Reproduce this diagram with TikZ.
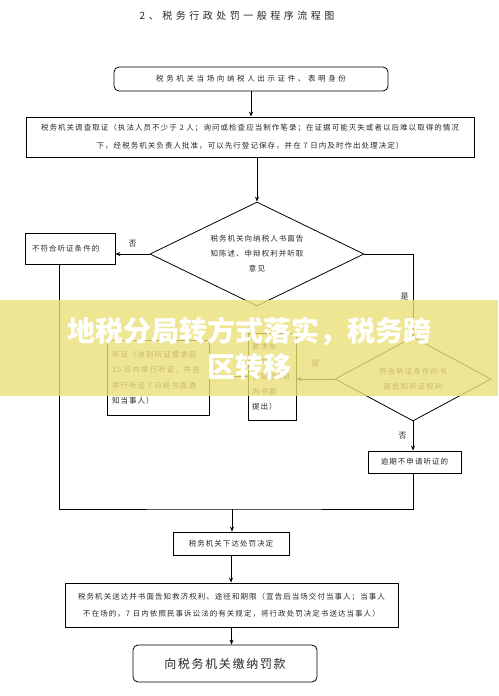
\documentclass[tikz,border=0pt]{standalone}
\usepackage{fontspec}
\usepackage{xcolor}
\newfontfamily\cjk[LetterSpace=14]{Noto Sans CJK SC}
\newfontfamily\cjkwide[LetterSpace=35]{Noto Sans CJK SC}
\newfontfamily\cjkplain{Noto Sans CJK SC}
\usetikzlibrary{shapes.geometric, arrows.meta, calc}
\definecolor{bannerfill}{RGB}{236,224,122}
\definecolor{inkgray}{RGB}{40,40,40}
\tikzset{
    box/.style={rectangle, draw, line width=0.8pt, inner sep=2pt, text=inkgray, font=\cjk\fontsize{7.5}{14}\selectfont},
    rbox/.style={box, rounded corners=5pt},
    choice/.style={diamond, draw, line width=0.8pt, inner sep=0pt, aspect=2, align=center, text=inkgray, font=\cjk\fontsize{7.5}{15}\selectfont},
    arrow/.style={line width=0.8pt, -{Stealth[length=5pt,width=4pt]}},
    link/.style={line width=0.8pt},
    tag/.style={text=inkgray, inner sep=1pt, font=\cjk\fontsize{8}{8}\selectfont}
}

\begin{document}
\begin{tikzpicture}[x=1pt, y=-1pt]
    \useasboundingbox (0,0) rectangle (498,696);
    \fill[white] (0,0) rectangle (498,696);

    \node (title) at (237,16) [text=inkgray, font=\cjkwide\fontsize{10}{10}\selectfont] {2、税务行政处罚一般程序流程图};

    % steps
    \node (show) at (251,79) [rbox, minimum width=274, minimum height=24, font=\cjkwide\fontsize{7.5}{10}\selectfont] {税务机关当场向纳税人出示证件、表明身份};
    \node (invest) at (250,137) [box, minimum width=448, minimum height=40, align=center, font=\cjk\fontsize{7.5}{18}\selectfont] {税务机关调查取证（执法人员不少于 2 人；询问或检查应当制作笔录；在证据可能灭失或者以后难以取得的情况\\下，经税务机关负责人批准，可以先行登记保存，并在 7 日内及时作出处理决定）};
    \node (notify) at (257,254) [choice, minimum width=214, minimum height=104] {税务机关向纳税人书面告\\知陈述、申辩权利并听取\\意见};
    \node (nohear) at (70,248.5) [box, minimum width=90, minimum height=31, text width=76, inner xsep=7, align=left] {不符合听证条件的};
    \node (hearcond) at (413,379) [choice, minimum width=156, minimum height=84] {符合听证条件的书\\面告知听证权利};
    \node (request) at (272,376.5) [box, minimum width=48, minimum height=87, text width=40, inner xsep=4, align=left, font=\cjk\fontsize{7.5}{15}\selectfont] {要求听\\证的（\\告知后3日\\内书面\\提出）};
    \node (hearing) at (158,377.5) [box, minimum width=102, minimum height=75, text width=92, inner xsep=5, align=left, font=\cjk\fontsize{7.5}{15.5}\selectfont] {听证（收到听证要求后\\15 日内举行听证，并在\\举行听证 7 日前书面通\\知当事人）};
    \node (overdue) at (414.5,462) [box, minimum width=93, minimum height=22] {逾期不申请听证的};
    \node (decide) at (231,543.5) [box, minimum width=116, minimum height=23] {税务机关下达处罚决定};
    \node (deliver) at (231.5,605) [box, minimum width=333, minimum height=44, align=center, font=\cjk\fontsize{7.5}{17}\selectfont] {税务机关送达并书面告知救济权利、途径和期限（宣告后当场交付当事人；当事人\\不在场的，7 日内依照民事诉讼法的有关规定，将行政处罚决定书送达当事人）};
    \node (pay) at (225,663.5) [rbox, minimum width=184, minimum height=37, font=\cjk\fontsize{12}{12}\selectfont] {向税务机关缴纳罚款};

    \coordinate (merge) at (232,509);

    % connectors
    \draw[arrow] (show.south) -- (show.south |- invest.north);
    \draw[arrow] (notify.north |- invest.south) -- (notify.north);
    \draw[arrow] (notify.west) -- node[tag, above=5pt] {否} (nohear.east |- notify.west);
    \draw[arrow] (notify.east) -| node[tag, pos=0.76, left=3pt] {是} (hearcond.north);
    \draw[arrow] (hearcond.west) -- node[tag, above=10pt] {是} (request.east |- hearcond.west);
    \draw[arrow] (request.west) -- (hearing.east |- request.west);
    \draw[arrow] (hearcond.south) -- node[tag, left=5pt] {否} (overdue.north -| hearcond.south);
    \draw[link] (overdue.south -| hearcond.south) |- (merge) -| ($(nohear.south)+(-11,0)$);
    \draw[arrow] (merge) -- (merge |- decide.north);
    \draw[arrow] (decide.south) -- (decide.south |- deliver.north);
    \draw[arrow] (deliver.south) -- (deliver.south |- pay.north);

    % banner over the chart
    \fill[bannerfill, opacity=0.8] (0,300) rectangle (498,396);
    \node (banner) at (249,349) [text=white, align=center, font=\cjkplain\bfseries\fontsize{28}{36}\selectfont] {地税分局转方式落实，税务跨\\区转移};
\end{tikzpicture}
\end{document}
